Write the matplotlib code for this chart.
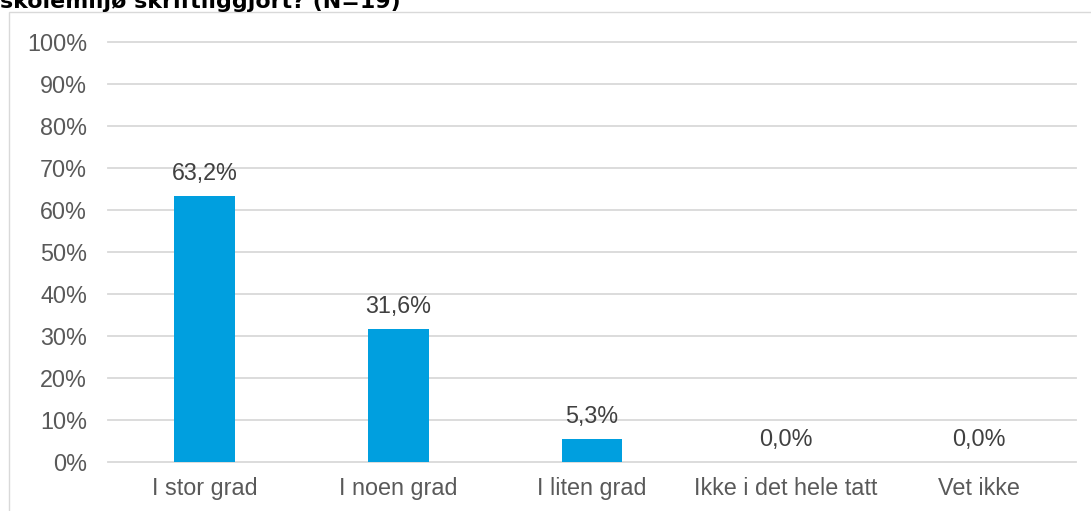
import numpy as np
import matplotlib
matplotlib.use('Agg')
import matplotlib.pyplot as plt
from matplotlib.patches import Rectangle

plt.rcParams['font.family'] = ['Liberation Sans', 'DejaVu Sans']

categories = ['I stor grad', 'I noen grad', 'I liten grad', 'Ikke i det hele tatt', 'Vet ikke']
values = [63.2, 31.6, 5.3, 0.0, 0.0]
yticks = [0, 10, 20, 30, 40, 50, 60, 70, 80, 90, 100]
title = 'skolemiljø skriftliggjort? (N=19)'

W, H = 1091, 511
fig = plt.figure(figsize=(W / 100, H / 100), dpi=100)
ax = fig.add_axes([108 / W, 49.3 / H, 968 / W, 420 / H])

x = np.arange(len(categories))
ax.bar(x, values, width=0.314, color='#009FDF', zorder=3)

for xi, v in zip(x, values):
    label = f'{v:.1f}%'.replace('.', ',')
    ax.annotate(label, (xi, v), xytext=(0, 11.5), textcoords='offset points',
                ha='center', va='baseline', fontsize=16.8, color='#404040')

ax.set_xlim(-0.5, len(categories) - 0.5)
ax.set_ylim(0, 100)
ax.set_yticks(yticks)
ax.set_yticklabels([f'{t}%' for t in yticks])
ax.set_xticks(x)
ax.set_xticklabels(categories)
ax.tick_params(axis='y', length=0, pad=15, labelsize=16.8, labelcolor='#595959')
ax.tick_params(axis='x', length=0, pad=11, labelsize=16.8, labelcolor='#595959')

ax.grid(axis='y', color='#d9d9d9', linewidth=1.3, zorder=0)
for line in ax.get_ygridlines():
    line.set_clip_on(False)
for s in ax.spines.values():
    s.set_visible(False)

# light frame around the chart area
fig.add_artist(Rectangle((8.5 / W, -0.05), 1.1, 1 - 11.7 / H + 0.05,
                         transform=fig.transFigure, fill=False,
                         edgecolor='#d9d9d9', linewidth=1))

# title: only the bottom line shows, its top is cut off by the image edge
fig.text(0.0, 1 - 8 / H, title, fontsize=15.9, fontweight='bold',
         family='DejaVu Sans', color='black', ha='left', va='baseline')

fig.savefig('out.png', dpi=100)
